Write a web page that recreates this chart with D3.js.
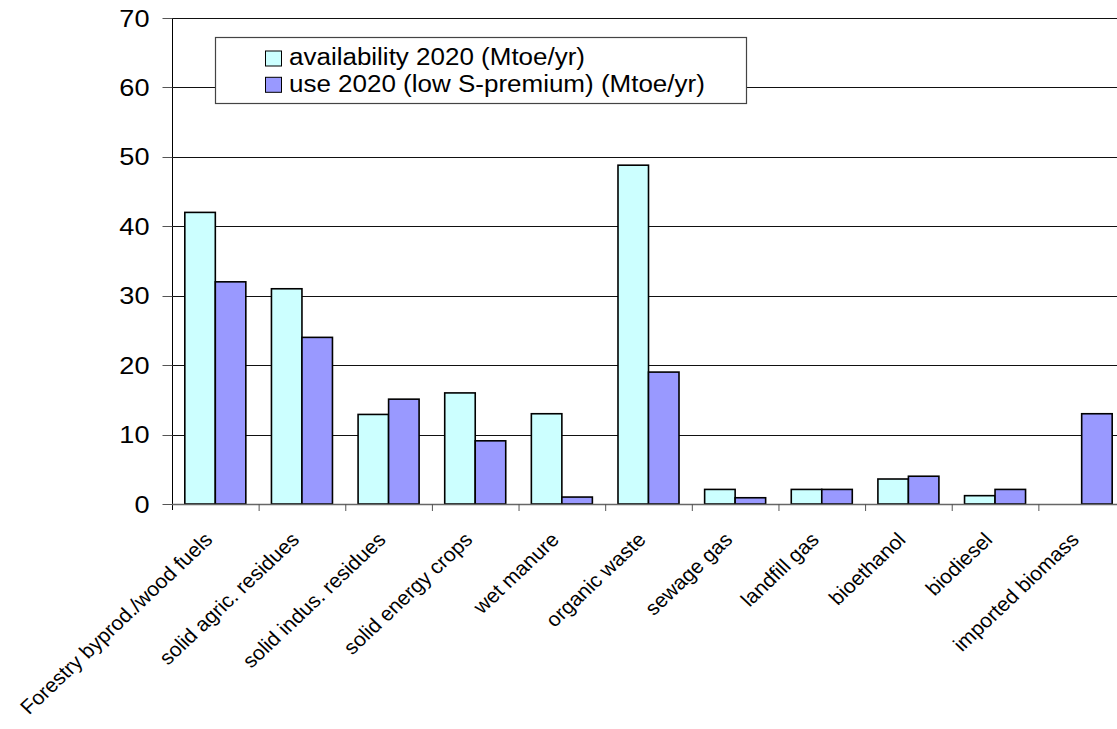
<!DOCTYPE html>
<html>
<head>
<meta charset="utf-8">
<script src="https://cdn.jsdelivr.net/npm/d3@7"></script>
<style>
  body { margin: 0; background: #fff; }
  text { font-family: "Liberation Sans", Arial, sans-serif; fill: #000; }
</style>
</head>
<body>
<div class="viz"></div>
<script>
const categories = [
  'Forestry byprod./wood fuels', 'solid agric. residues', 'solid indus. residues',
  'solid energy crops', 'wet manure', 'organic waste', 'sewage gas', 'landfill gas',
  'bioethanol', 'biodiesel', 'imported biomass'
];
const availability = [42, 31, 12.9, 16, 13, 48.8, 2.1, 2.1, 3.6, 1.2, 0];
const use2020 = [32, 24, 15.1, 9.1, 1, 19, 0.9, 2.1, 4, 2.1, 13];
const seriesNames = ['availability 2020 (Mtoe/yr)', 'use 2020 (low S-premium) (Mtoe/yr)'];
const seriesColors = ['#ccffff', '#9999ff'];
const yTicks = [0, 10, 20, 30, 40, 50, 60, 70];

const W = 1117, H = 729;
const margin = { left: 172, right: 1125, top: 18, bottom: 504 };
const stretch = 1.13; // the original is a bit wider than tall

const svg = d3.select('.viz').append('svg')
  .attr('width', W).attr('height', H);

const x = d3.scaleBand().domain(categories).range([margin.left, margin.right]).padding(0);
const y = d3.scaleLinear().domain([0, 70]).range([margin.bottom, margin.top]);

// inner scale for the two series within a category
const xs = d3.scaleBand().domain([0, 1])
  .range([0, x.bandwidth()]).paddingInner(0).paddingOuter(0.42);

// gridlines
svg.append('g').selectAll('line')
  .data(yTicks.filter(d => d > 0))
  .join('line')
  .attr('x1', margin.left).attr('x2', W)
  .attr('y1', d => Math.round(y(d)) + 0.5).attr('y2', d => Math.round(y(d)) + 0.5)
  .attr('stroke', '#111').attr('stroke-width', 1);

// bars
const data = categories.map((c, i) => ({ c, vals: [availability[i], use2020[i]] }));
const groups = svg.append('g').selectAll('g')
  .data(data).join('g')
  .attr('transform', d => 'translate(' + x(d.c) + ',0)');

groups.selectAll('rect')
  .data(d => d.vals.map((v, k) => ({ v, k })).filter(e => e.v > 0))
  .join('rect')
  .attr('x', e => xs(e.k))
  .attr('width', xs.bandwidth())
  .attr('y', e => y(e.v))
  .attr('height', e => margin.bottom - y(e.v))
  .attr('fill', e => seriesColors[e.k])
  .attr('stroke', '#000')
  .attr('stroke-width', 1.6);

// y axis
const yAxis = svg.append('g').attr('transform', 'translate(' + (margin.left + 0.5) + ',0)');
yAxis.append('line').attr('x1', 0).attr('x2', 0)
  .attr('y1', margin.top).attr('y2', margin.bottom + 6).attr('stroke', '#000');
yAxis.selectAll('.tk').data(yTicks).join('line')
  .attr('x1', -10).attr('x2', 0)
  .attr('y1', d => Math.round(y(d)) + 0.5).attr('y2', d => Math.round(y(d)) + 0.5)
  .attr('stroke', '#555');
yAxis.selectAll('text').data(yTicks).join('text')
  .attr('transform', d => 'translate(-23,' + y(d) + ') scale(' + stretch + ',1)')
  .attr('dy', '0.36em')
  .attr('text-anchor', 'end')
  .style('font-size', '24px')
  .text(d => d);

// x axis
const xAxis = svg.append('g');
xAxis.append('line').attr('x1', margin.left).attr('x2', W)
  .attr('y1', margin.bottom + 0.5).attr('y2', margin.bottom + 0.5)
  .attr('stroke', '#666').attr('stroke-width', 1.5);
xAxis.selectAll('.tk').data(categories).join('line')
  .attr('x1', d => x(d) + x.bandwidth() + 0.5).attr('x2', d => x(d) + x.bandwidth() + 0.5)
  .attr('y1', margin.bottom).attr('y2', margin.bottom + 7)
  .attr('stroke', '#555');
xAxis.selectAll('text').data(categories).join('text')
  .attr('transform', d => 'translate(' + (x(d) + x.bandwidth() / 2 - 1.5) + ',' + (margin.bottom + 37) +
    ') scale(1.06,1) rotate(-45)')
  .attr('text-anchor', 'end')
  .style('font-size', '20px')
  .text(d => d);

// legend
const lg = svg.append('g');
lg.append('rect')
  .attr('x', 215.5).attr('y', 37.5).attr('width', 531).attr('height', 66)
  .attr('fill', '#fff').attr('stroke', '#444').attr('stroke-width', 1.2);
seriesNames.forEach((name, k) => {
  const sy = 51 + k * 26.3;
  lg.append('rect')
    .attr('x', 265.5).attr('y', sy).attr('width', 16).attr('height', 15)
    .attr('fill', seriesColors[k]).attr('stroke', '#000').attr('stroke-width', 1);
  lg.append('text')
    .attr('transform', 'translate(289,' + (65 + k * 26.5) + ') scale(' + stretch + ',1)')
    .style('font-size', '23px')
    .text(name);
});
</script>
</body>
</html>
